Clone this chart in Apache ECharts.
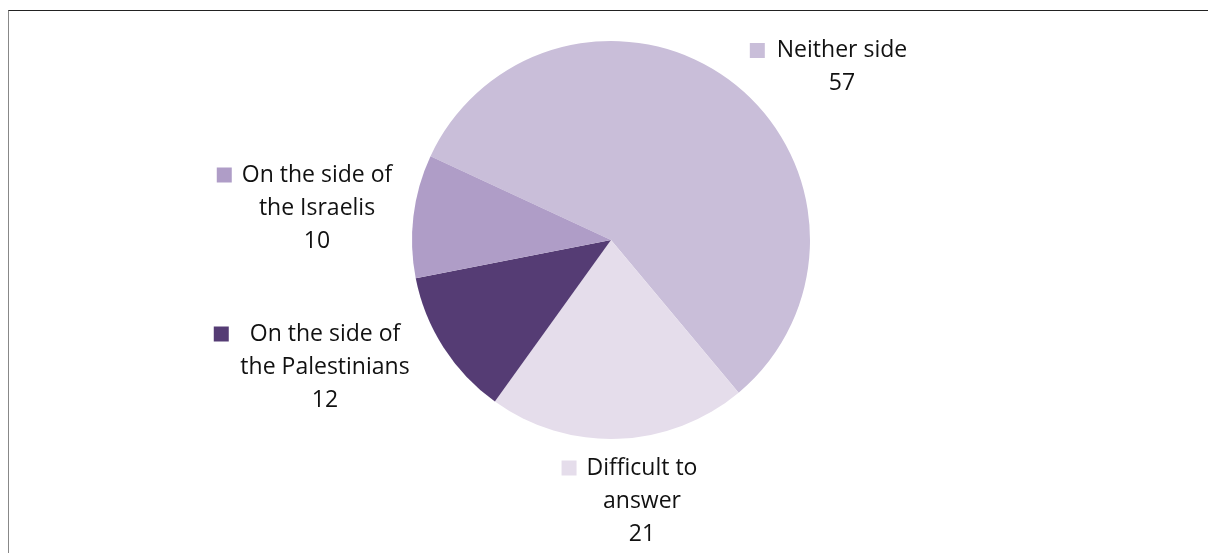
<!DOCTYPE html>
<html>
<head>
<meta charset="utf-8">
<script src="https://cdn.jsdelivr.net/npm/echarts@6/dist/echarts.min.js"></script>
<style>
html,body{margin:0;padding:0;background:#fff;width:1208px;height:553px;overflow:hidden;}
#frame{position:absolute;left:8px;top:10px;width:1300px;height:700px;border-top:1px solid #222;border-left:1px solid #888;}
#chart{position:absolute;left:0;top:0;width:1208px;height:553px;}
</style>
</head>
<body>
<div id="frame"></div>
<div id="chart"></div>
<script>
// Data
const categories = ['Neither side', 'Difficult to answer', 'On the side of the Palestinians', 'On the side of the Israelis'];
const labelLines = [['Neither side'], ['Difficult to', 'answer'], ['On the side of', 'the Palestinians'], ['On the side of', 'the Israelis']];
const values = [57, 21, 12, 10];

// Styling
const colors = ['#C9BED9', '#E5DDEB', '#553C74', '#AF9DC7'];
const markerGaps = [12, 10, 21, 10];
const labelAnchors = [[842, 67], [642, 501], [325, 367], [317, 208]];

const rich = {};
colors.forEach((c, i) => {
  rich['m' + i] = { width: 15, height: 15, backgroundColor: c };
  rich['g' + i] = { width: markerGaps[i], height: 15 };
  rich['p' + i] = { width: 15 + markerGaps[i], height: 15 };
});
rich.t = { fontFamily: 'Open Sans', fontSize: 23, lineHeight: 33, color: '#111' };

const chart = echarts.init(document.getElementById('chart'), null, { renderer: 'canvas' });
chart.setOption({
  animation: false,
  backgroundColor: 'transparent',
  series: [{
    type: 'pie',
    center: [611, 240],
    radius: 199,
    startAngle: 155.1,
    clockwise: true,
    color: colors,
    avoidLabelOverlap: false,
    itemStyle: { borderWidth: 0 },
    label: {
      show: true,
      position: 'outside',
      align: 'center',
      formatter: function (p) {
        const i = p.dataIndex;
        const lines = labelLines[i];
        let s = '{m' + i + '|}{g' + i + '|}{t|' + lines[0] + '}{p' + i + '|}';
        for (let k = 1; k < lines.length; k++) s += '\n{t|' + lines[k] + '}';
        s += '\n{t|' + p.value + '}';
        return s;
      },
      rich: rich
    },
    labelLine: { show: false },
    labelLayout: function (params) {
      const a = labelAnchors[params.dataIndex];
      return { x: a[0], y: a[1], align: 'center', verticalAlign: 'middle' };
    },
    data: categories.map((c, i) => ({ name: c, value: values[i] }))
  }]
});
</script>
</body>
</html>
